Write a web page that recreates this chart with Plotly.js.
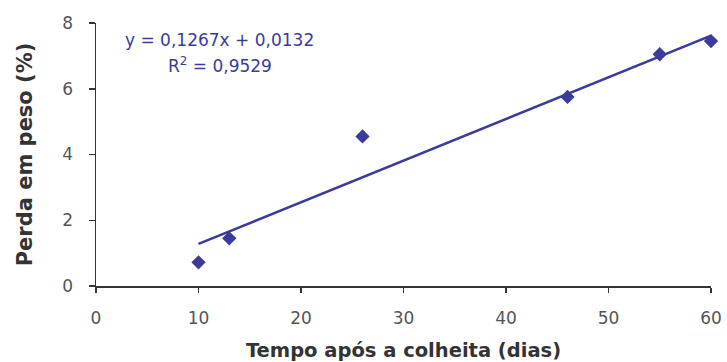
<!DOCTYPE html>
<html>
<head>
<meta charset="utf-8">
<script src="https://cdn.plot.ly/plotly-3.0.1.min.js"></script>
<style>html,body{margin:0;padding:0;background:#fff;}#chart{width:727px;height:362px;}</style>
</head>
<body>
<div id="chart"></div>
<script>
const days = [10, 13, 26, 46, 55, 60];
const weightLoss = [0.72, 1.45, 4.55, 5.75, 7.05, 7.45];
const trendX = [10, 60];
const trendY = [1.28, 7.615];
const xTicks = [0, 10, 20, 30, 40, 50, 60];
const yTicks = [0, 2, 4, 6, 8];
const equationText = "y = 0,1267x + 0,0132";
const r2Text = "R<sup>2</sup> = 0,9529";

const blue = "#3b3b9c";
const axisColor = "#333333";
const font = "DejaVu Sans, Verdana, sans-serif";

const traces = [
  {x: trendX, y: trendY, mode: "lines", type: "scatter", cliponaxis: false,
   line: {color: blue, width: 2.5}, hoverinfo: "skip"},
  {x: days, y: weightLoss, mode: "markers", type: "scatter", cliponaxis: false,
   marker: {symbol: "diamond", size: 11, color: blue}}
];

const layout = {
  width: 727, height: 362,
  margin: {l: 96, r: 16, t: 23, b: 76},
  paper_bgcolor: "#fff", plot_bgcolor: "#fff",
  showlegend: false,
  font: {family: font, color: axisColor, size: 17},
  xaxis: {
    range: [0, 60], tickvals: xTicks, ticktext: xTicks.map(String),
    showline: true, linecolor: axisColor, linewidth: 1.5,
    ticks: "outside", ticklen: 5, tickcolor: axisColor, tickwidth: 1.5,
    ticklabelstandoff: 11,
    showgrid: false, zeroline: false, automargin: false,
    tickfont: {size: 17, color: "#555"},
    title: {text: "<b>Tempo após a colheita (dias)</b>", font: {size: 19.5, color: "#333"}, standoff: 16}
  },
  yaxis: {
    range: [0, 8], tickvals: yTicks, ticktext: yTicks.map(String),
    showline: true, linecolor: axisColor, linewidth: 1.5,
    ticks: "outside", ticklen: 6, tickcolor: axisColor, tickwidth: 1.5,
    ticklabelstandoff: 12,
    showgrid: false, zeroline: false, automargin: false,
    tickfont: {size: 17, color: "#555"},
    title: {text: "<b>Perda em peso (%)</b>", font: {size: 21, color: "#333"}, standoff: 24}
  },
  annotations: [
    {xref: "paper", yref: "paper", x: (219 - 96) / 615, y: (286 - 40) / 263,
     text: equationText, showarrow: false, xanchor: "center", yanchor: "middle",
     font: {size: 17, color: blue}},
    {xref: "paper", yref: "paper", x: (220 - 96) / 615, y: (286 - 65) / 263,
     text: r2Text, showarrow: false, xanchor: "center", yanchor: "middle",
     font: {size: 17, color: blue}}
  ]
};

Plotly.newPlot("chart", traces, layout, {displayModeBar: false, staticPlot: true});
</script>
</body>
</html>
